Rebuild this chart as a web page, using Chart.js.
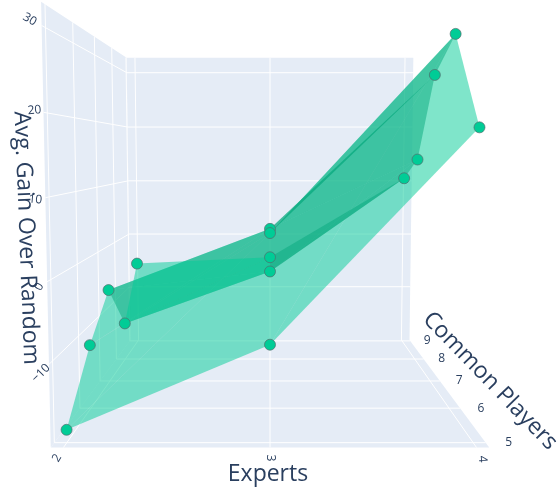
<!DOCTYPE html>
<html>
<head>
<meta charset="utf-8">
<style>
  html, body { margin: 0; background: #fff; }
  #chart { display: block; }
</style>
<script src="https://cdn.jsdelivr.net/npm/chart.js@4"></script>
</head>
<body>
<canvas id="chart" width="560" height="496"></canvas>
<script>
// values
const experts = [2, 3, 4];
const commonPlayers = [5, 6, 7, 8, 9];
const gainAt2 = [-18.6, -11.3, -5.9, -14, -5.5];
const gainAt3 = [-8, 4.3, 3.6, -5, -4.3];
const gainAt4 = [18.3, 31.2, 27, 14.1, 10.5];
const gainTicks = [-10, 0, 10, 20, 30];

const gains = [gainAt2, gainAt3, gainAt4];

const SURFACE = "rgba(0,204,150,0.5)";
const SURFACE_SHADED = "rgba(8,169,126,0.5)"; // cells turned away from the light
const WALL = "#E5ECF6";
const INK = "#2a3f5f";
const FONT = '"Open Sans", sans-serif';

// scene box -> normalised cube
const toU = e => 0.029 + 0.471 * (e - 2);
const toV = p => 0.029 + 0.2396 * (p - 5);
const toW = g => 0.382 + 0.01889 * g;

// camera fitted on the corners of the box
function project(u, v, w) {
    const d = 1 + 0.5717 * v - 0.0422 * w;
    return {
        x: 270 + (u - 0.5) * 438.5 / d,
        y: (447.5 + 86.9 * v - 445.9 * w) / d,
    };
}
const dataPoint = (e, p, g) => project(toU(e), toV(p), toW(g));

function polygon(points, color) {
    return {
        data: points, showLine: true, fill: "shape", backgroundColor: color,
        borderWidth: 0, pointRadius: 0, borderDash: [1, 0],
    };
}
function gridLine(a, b) {
    return {
        data: [a, b], showLine: true, fill: false, borderColor: "#ffffff",
        borderWidth: 1, pointRadius: 0,
    };
}

const datasets = [];

// walls
datasets.push(polygon([project(0, 0, 0), project(0, 1, 0), project(0, 1, 1), project(0, 0, 1)], WALL));
datasets.push(polygon([project(0, 1, 0), project(1, 1, 0), project(1, 1, 1), project(0, 1, 1)], WALL));
datasets.push(polygon([project(0, 0, 0), project(1, 0, 0), project(1, 1, 0), project(0, 1, 0)], WALL));

// grid
gainTicks.forEach(g => {
    const w = toW(g);
    datasets.push(gridLine(project(0, 0, w), project(0, 1, w)));
    datasets.push(gridLine(project(0, 1, w), project(1, 1, w)));
});
experts.forEach(e => {
    const u = toU(e);
    datasets.push(gridLine(project(u, 1, 0), project(u, 1, 1)));
    datasets.push(gridLine(project(u, 0, 0), project(u, 1, 0)));
});
commonPlayers.forEach(p => {
    const v = toV(p);
    datasets.push(gridLine(project(0, v, 0), project(0, v, 1)));
    datasets.push(gridLine(project(0, v, 0), project(1, v, 0)));
});

// surface, two triangles per cell
for (let i = 0; i < experts.length - 1; i++) {
    for (let j = 0; j < commonPlayers.length - 1; j++) {
        const a = dataPoint(experts[i], commonPlayers[j], gains[i][j]);
        const b = dataPoint(experts[i + 1], commonPlayers[j], gains[i + 1][j]);
        const c = dataPoint(experts[i + 1], commonPlayers[j + 1], gains[i + 1][j + 1]);
        const d = dataPoint(experts[i], commonPlayers[j + 1], gains[i][j + 1]);
        const color = (j === 2 || (i === 1 && j !== 0)) ? SURFACE_SHADED : SURFACE;
        datasets.push(polygon([a, b, c], color));
        datasets.push(polygon([a, c, d], color));
    }
}

// markers, far ones first
const markers = [];
experts.forEach((e, i) => {
    for (let j = commonPlayers.length - 1; j >= 0; j--) {
        markers.push(dataPoint(e, commonPlayers[j], gains[i][j]));
    }
});
datasets.push({
    data: markers, showLine: false, pointRadius: 5.5,
    pointBackgroundColor: "#00cc96", pointBorderColor: "rgba(80,110,110,0.7)", pointBorderWidth: 1,
});

// chart.js paints the first dataset last
datasets.reverse();

function drawText(ctx, text, x, y, size, angle) {
    ctx.save();
    ctx.translate(x, y);
    ctx.rotate(angle * Math.PI / 180);
    ctx.font = size + "px " + FONT;
    ctx.fillStyle = INK;
    ctx.textAlign = "center";
    ctx.textBaseline = "middle";
    ctx.fillText(text, 0, 0);
    ctx.restore();
}

// axis labels sit next to the projected tick
const gainLabelPlace = [[-8, 9, -45], [-8, 5, -60], [-10, 2, 5], [-9, -2, -5], [-12, -6, 30]];
const expertLabelPlace = [[-6.5, 10.5, -60], [0, 10.5, 90], [6, 11.5, 85]];

const axisText = {
    id: "axisText",
    afterDatasetsDraw(chart) {
        const ctx = chart.ctx;
        gainTicks.forEach((g, i) => {
            const p = project(0, 0, toW(g));
            const [dx, dy, a] = gainLabelPlace[i];
            const label = g < 0 ? "\u2212" + Math.abs(g) : String(g);
            drawText(ctx, label, p.x + dx, p.y + dy, 12, a);
        });
        experts.forEach((e, i) => {
            const p = project(toU(e), 0, 0);
            const [dx, dy, a] = expertLabelPlace[i];
            drawText(ctx, String(e), p.x + dx, p.y + dy, 12, a);
        });
        commonPlayers.forEach(c => {
            const v = toV(c);
            const p = project(1, v, 0);
            const d = 1 + 0.5717 * v;
            drawText(ctx, String(c), p.x + 17.4 / d + 5.9, p.y, 12, 0);
        });
        drawText(ctx, "Avg. Gain Over Random", 26, 238, 23, 87.8);
        drawText(ctx, "Experts", 268, 474, 23, 0);
        drawText(ctx, "Common Players", 490, 381, 23, 45.9);
    },
};

new Chart(document.getElementById("chart"), {
    type: "scatter",
    data: { datasets },
    plugins: [axisText],
    options: {
        responsive: false,
        animation: false,
        layout: { padding: 0, autoPadding: false },
        plugins: { legend: { display: false }, tooltip: { enabled: false } },
        scales: {
            x: { display: false, min: 0, max: 560 },
            y: { display: false, min: 0, max: 496, reverse: true },
        },
    },
});
</script>
</body>
</html>
